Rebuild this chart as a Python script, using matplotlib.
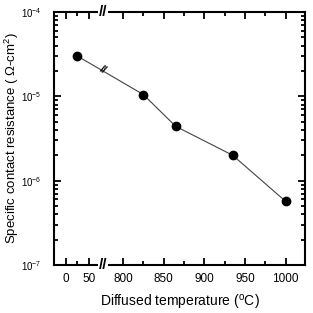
import numpy as np
import matplotlib
matplotlib.use('Agg')
import matplotlib.pyplot as plt
from matplotlib.ticker import FixedLocator, LogLocator, NullFormatter

matplotlib.rc('font', **{'family': 'sans-serif',
                         'sans-serif': ['Liberation Sans'], 'size': 8})
matplotlib.rcParams['mathtext.fontset'] = 'custom'
matplotlib.rcParams['mathtext.rm'] = 'Liberation Sans'
matplotlib.rcParams['mathtext.it'] = 'Liberation Sans:italic'

# data
temp = [25, 825, 865, 935, 1000]
rho_c = [3.0e-5, 1.05e-5, 4.4e-6, 2.0e-6, 5.7e-7]

major_x = [0, 50, 800, 850, 900, 950, 1000]
minor_x = [25, 825, 875, 925, 975]

# broken x axis: compressed 0-50 part, gap, then 800-1000
xs = [-1000, 50, 800, 3000]
us = [-460, 23, 57, 57 + 2200 * 0.812]
fwd = lambda x: np.interp(x, xs, us)
inv = lambda u: np.interp(u, us, xs)

fig = plt.figure(figsize=(3.13, 3.13), dpi=100)
ax = fig.add_axes([54/313, 48/313, 251/313, 253/313])

ax.set_xscale('function', functions=(fwd, inv))
ax.set_yscale('log')

ax.plot(temp, rho_c, '-', color='#444444', lw=0.8,
        marker='o', ms=6, mfc='k', mec='k')

ax.set_xlim(-26, 1024)
ax.set_ylim(1e-7, 1e-4)

ax.xaxis.set_major_locator(FixedLocator(major_x))
ax.xaxis.set_minor_locator(FixedLocator(minor_x))
ax.set_xticklabels([str(v) for v in major_x])
ax.yaxis.set_major_locator(LogLocator(base=10, numticks=10))
ax.yaxis.set_minor_locator(LogLocator(base=10, subs=np.arange(2, 10), numticks=10))
ax.yaxis.set_minor_formatter(NullFormatter())

for s in ax.spines.values():
    s.set_linewidth(1.5)
ax.tick_params(which='both', direction='in', top=True, right=True, width=1.3)
ax.tick_params(which='major', length=5)
ax.tick_params(which='minor', length=3)
ax.tick_params(axis='x', pad=6, labelsize=8.5)
ax.tick_params(axis='y', pad=9, labelsize=7)

# break marks on the spines and on the line
for yb in (0, 1):
    ax.text(0.195, yb, '//', transform=ax.transAxes, ha='center', va='center',
            fontsize=11, fontweight='bold',
            bbox=dict(fc='white', ec='none', pad=0.5))
ax.text(0.195, 0.772, '//', transform=ax.transAxes, ha='center', va='center',
        fontsize=8, fontweight='bold', rotation=-30)

ax.set_xlabel(r'Diffused temperature ($^{\rm o}$C)', fontsize=10)
ax.set_ylabel(r'Specific contact resistance ( $\Omega$-cm$^{\rm 2}$)', fontsize=9.5)
ax.xaxis.set_label_coords(0.5, -0.112)
ax.yaxis.set_label_coords(-0.132, 0.5)

fig.savefig('out.png', dpi=100)
